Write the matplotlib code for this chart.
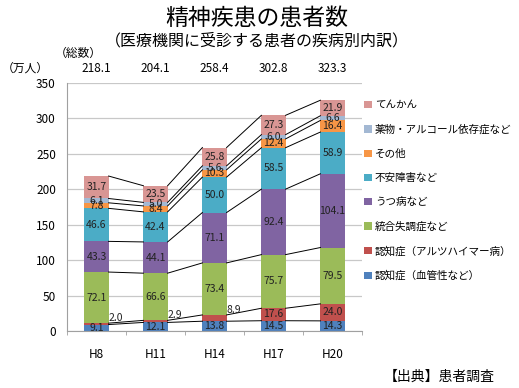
import numpy as np
import matplotlib
matplotlib.use("Agg")
from matplotlib import pyplot as plt

plt.rcParams["font.family"] = ["Noto Sans CJK JP", "DejaVu Sans"]

years = ["H8", "H11", "H14", "H17", "H20"]
totals = ["218.1", "204.1", "258.4", "302.8", "323.3"]

# bottom to top
series_names = [
    "認知症（血管性など）",
    "認知症（アルツハイマー病）",
    "統合失調症など",
    "うつ病など",
    "不安障害など",
    "その他",
    "薬物・アルコール依存症など",
    "てんかん",
]
vascular = [9.1, 12.1, 13.8, 14.5, 14.3]
alzheimer = [2.0, 2.9, 8.9, 17.6, 24.0]
schizo = [72.1, 66.6, 73.4, 75.7, 79.5]
depression = [43.3, 44.1, 71.1, 92.4, 104.1]
anxiety = [46.6, 42.4, 50.0, 58.5, 58.9]
other = [7.8, 8.4, 10.3, 12.4, 16.4]
drug = [6.1, 5.0, 5.6, 6.0, 6.6]
epilepsy = [31.7, 23.5, 25.8, 27.3, 21.9]

series = [vascular, alzheimer, schizo, depression, anxiety, other, drug, epilepsy]
colors = ["#4F81BD", "#C0504D", "#9BBB59", "#8064A2",
          "#4BACC6", "#F79646", "#A3B8D3", "#D99694"]

fig = plt.figure(figsize=(5.19, 3.88), dpi=100)
ax = fig.add_axes([67 / 519, 1 - 331 / 388, 295 / 519, 248 / 388])

x = np.arange(len(years))
width = 0.41
bottom = np.zeros(len(years))
handles = []
for k, (vals, col) in enumerate(zip(series, colors)):
    vals = np.array(vals)
    b = ax.bar(x, vals, width, bottom=bottom, color=col, zorder=2, label=series_names[k])
    handles.append(b)
    for i in range(len(years)):
        if k == 1 and i < 3:
            # small alzheimer values sit beside the bar
            ax.text(x[i] + 0.32, bottom[i] + vals[i] + 7, f"{vals[i]:.1f}",
                    ha="center", va="center", fontsize=7.5, color="#222222", zorder=4)
        else:
            ax.text(x[i], bottom[i] + vals[i] / 2, f"{vals[i]:.1f}",
                    ha="center", va="center", fontsize=7.5, color="#222222", zorder=4)
    bottom = bottom + vals
    # series lines between bars
    for i in range(len(years) - 1):
        ax.plot([x[i] + width / 2, x[i + 1] - width / 2], [bottom[i], bottom[i + 1]],
                color="black", lw=0.7, zorder=3)

ax.set_xlim(-0.5, 4.5)
ax.set_ylim(0, 350)
ax.set_yticks(np.arange(0, 351, 50))
ax.yaxis.grid(True, color="#C8C8C8", lw=0.9, zorder=0)
ax.set_xticks(x)
ax.set_xticklabels(years, fontsize=8.5)
ax.set_xticks(np.arange(-0.5, 4.6, 1), minor=True)
ax.tick_params(axis="x", which="major", length=0, pad=12)
ax.tick_params(axis="x", which="minor", length=3, color="#A0A0A0")
ax.tick_params(axis="y", length=0, labelsize=8.5, pad=8)
for s in ["top", "right"]:
    ax.spines[s].set_visible(False)
ax.spines["left"].set_color("#A0A0A0")
ax.spines["bottom"].set_color("#A0A0A0")

for i, t in enumerate(totals):
    ax.text(x[i], 371, t, ha="center", va="center", fontsize=8.5, clip_on=False)

fig.text(257 / 519, 1 - 18 / 388, "精神疾患の患者数", ha="center", va="center", fontsize=16.5)
fig.text(257 / 519, 1 - 41 / 388, "（医療機関に受診する患者の疾病別内訳）",
         ha="center", va="center", fontsize=11.5)
fig.text(78 / 519, 1 - 53 / 388, "（総数）", ha="center", va="center", fontsize=8.5)
fig.text(25 / 519, 1 - 68 / 388, "（万人）", ha="center", va="center", fontsize=8.5)
fig.text(495 / 519, 1 - 377 / 388, "【出典】患者調査", ha="right", va="center", fontsize=10)

fig.legend(handles[::-1], series_names[::-1], loc="upper left",
           bbox_to_anchor=(360 / 519, 1 - 96 / 388), frameon=False, fontsize=7.6,
           handlelength=0.7, handleheight=0.7, handletextpad=0.3, labelspacing=1.34,
           borderaxespad=0)

fig.savefig("out.png", dpi=100)
